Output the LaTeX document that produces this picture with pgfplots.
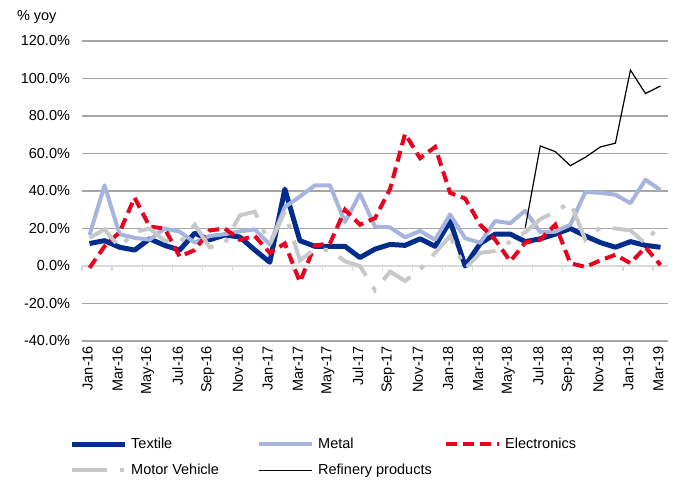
\documentclass[border=0pt]{standalone}
\usepackage{fontspec}
\setmainfont{Liberation Sans}
\usepackage{pgfplots}
\pgfplotsset{compat=1.18}
\usepackage{pgfplotstable}

\definecolor{textile}{RGB}{0,45,140}
\definecolor{metal}{RGB}{166,180,222}
\definecolor{elec}{RGB}{235,0,30}
\definecolor{motor}{RGB}{200,200,200}
\definecolor{gridc}{RGB}{165,165,165}
\definecolor{axisc}{RGB}{217,217,217}

% month index (0 = Jan-16), % yoy
\pgfplotstableread{
i  tex   met   ele   mot
0  12    16.5  -1    15
1  13.5  43    10.5  19.5
2  10    17    18    10
3  8.5   15    36.5  18
4  14.5  14    21    20
5  11    20    20    13.5
6  8.5   18.3  5     12.5
7  17.5  12.5  8.5   22
8  14    16    19    10
9  16.5  17    20    12
10 15.5  18.5  14    27
11 8.5   19.5  16    29
12 2     11.5  7     11.5
13 41    31.5  12    29
14 13.5  37    -8.5  3
15 10.5  43    11    9
16 10.5  43    12    8.5
17 10.5  23.5  30    2.5
18 4.5   38.5  22    0
19 9     21    25.5  -13
20 11.5  20.6  41    -3
21 11    15.3  70.5  -8
22 14.5  18.7  57.5  -2
23 10.5  14    63.5  7
24 24    27.5  39    16
25 0     14.8  36    -1.5
26 12    12.4  22    7
27 17    24    14    8
28 17    22.8  2.5   13
29 13    29.5  12.5  18
30 14.5  18    14    25
31 17    18.3  22    29
32 20    22    1.5   34
33 16    39.5  -0.5  14
34 12.5  39    3     20.5
35 10    38    6     20
36 13    33.5  1.5   19
37 11    46    10    12
38 10    40.5  0.5   23
}\data

\pgfplotstableread{
i  ref
29 20.5
30 64
31 61
32 53.5
33 58
34 63.5
35 65.5
36 104.5
37 92
38 96
}\refinery

\begin{document}
\fontsize{14.5}{17}\selectfont
\begin{tikzpicture}
\begin{axis}[
    scale only axis,
    width=586pt, height=300pt,
    xmin=-0.5, xmax=38.5,
    ymin=-40, ymax=120,
    clip=false,
    axis line style={draw=none},
    major tick length=0pt,
    ytick={-40,-20,...,120},
    xtick={0,2,...,38},
    xticklabels={Jan-16,Mar-16,May-16,Jul-16,Sep-16,Nov-16,Jan-17,Mar-17,May-17,Jul-17,Sep-17,Nov-17,Jan-18,Mar-18,May-18,Jul-18,Sep-18,Nov-18,Jan-19,Mar-19},
    ymajorgrids,
    grid style={gridc, line width=1.5pt},
    /pgf/number format/assume math mode=true,
    yticklabel={\pgfmathprintnumber[fixed,fixed zerofill,precision=1]{\tick}\%},
    tick label style={font=\fontsize{14.5}{17}\selectfont},
    yticklabel style={anchor=east, xshift=-7pt},
    xticklabel style={rotate=90, anchor=east, yshift=2pt},
    legend columns=3,
    legend cell align=left,
    legend style={at={(axis description cs:-0.0222,-0.322)}, anchor=north west,
        draw=none, fill=none, inner sep=0pt, column sep=0pt, row sep=13.5pt,
        nodes={inner sep=0pt, anchor=west}, font=\fontsize{14.5}{17}\selectfont},
    legend image code/.code={\draw[#1] (0pt,0pt) -- (53pt,0pt);},
]

% zero line with category ticks
\draw[axisc, line width=1.5pt] (axis cs:-0.5,0) -- (axis cs:38.5,0);
\pgfplotsinvokeforeach{0,...,19}{
    \draw[axisc, line width=1.2pt] (axis cs:{2*#1-0.5},0) -- ++(0pt,-5pt);
}

\addplot[textile, line width=5pt, line join=round] table[x=i, y=tex] {\data};
\addlegendentry{\hspace{4pt}\makebox[126pt][l]{Textile}}
\addplot[metal, line width=4pt, line join=round] table[x=i, y=met] {\data};
\addlegendentry{\hspace{4pt}\makebox[126pt][l]{Metal}}
\addplot[elec, line width=4pt, dash pattern=on 11pt off 6pt] table[x=i, y=ele] {\data};
\addlegendentry{\hspace{4pt}Electronics}
\addplot[motor, line width=4pt, dash pattern=on 35pt off 13pt on 4.5pt off 13pt] table[x=i, y=mot] {\data};
\addlegendentry{\hspace{4pt}\makebox[126pt][l]{Motor Vehicle}}
\addplot[black, line width=1.2pt] table[x=i, y=ref] {\refinery};
\addlegendentry{\hspace{4pt}Refinery products}

\node[anchor=west] at (rel axis cs:0,1) [xshift=-70pt, yshift=24pt] {\% yoy};
% page frame matching the reference canvas
\path (rel axis cs:0,0) ++(-82pt,-148pt) rectangle ++(678pt,489pt);
\end{axis}
\end{tikzpicture}
\end{document}
